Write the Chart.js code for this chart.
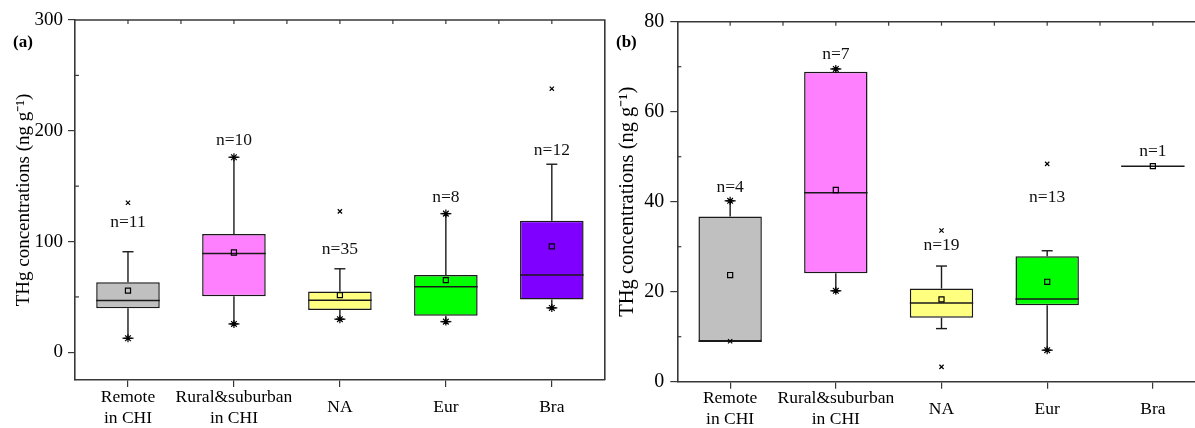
<!DOCTYPE html>
<html><head><meta charset="utf-8">
<script src="https://cdn.jsdelivr.net/npm/chart.js@4/dist/chart.umd.min.js"></script>
<style>
html,body{margin:0;padding:0;background:#fff;overflow:hidden;width:1195px;height:428px;position:relative}
#ca{position:absolute;left:0;top:0}
#cb{position:absolute;left:610px;top:0}
</style></head><body>
<canvas id="ca" width="610" height="428"></canvas>
<canvas id="cb" width="620" height="428"></canvas>
<script>
const categories = [["Remote","in CHI"],["Rural&suburban","in CHI"],"NA","Eur","Bra"];
const boxColors = ["#C0C0C0","#FF80FF","#FFFF80","#00FF00","#8000FF"];

// Panel (a)
const aQ1 = [39.8, 50.7, 38.3, 32.9, 47.6];
const aQ3 = [63.3, 106.8, 54.8, 69.7, 118.8];
const aMedian = [46.7, 89.2, 47.1, 59.1, 69.7];
const aMean = [55.7, 90.1, 51.6, 65.2, 95.6];
const aWhiskerLow = [12.7, 25.6, 29.9, 27.7, 40.1];
const aWhiskerHigh = [90.8, 176.1, 75.4, 125.2, 169.8];
const aStarLow = [12.7, 25.6, 29.9, 27.7, 40.1];
const aStarHigh = [null, 176.1, null, 125.2, null];
const aCrossHigh = [135, null, 127.2, null, 238];
const aCrossLow = [null, null, null, null, null];
const aN = ["n=11","n=10","n=35","n=8","n=12"];
const aNLabelAt = [117.3, 191.2, 92.6, 139.6, 182.4];
const aTicks = [0, 100, 200, 300];
const aMinorTicks = [50, 150, 250];

// Panel (b)
const bQ1 = [9.0, 24.1, 14.2, 17.0, 47.9];
const bQ3 = [36.7, 68.9, 20.7, 27.9, 47.9];
const bMedian = [9.0, 42.0, 17.5, 18.4, 47.9];
const bMean = [23.7, 42.6, 18.3, 22.2, 47.9];
const bWhiskerLow = [9.0, 20.2, 11.8, 7.0, 47.9];
const bWhiskerHigh = [40.2, 69.5, 25.7, 29.1, 47.9];
const bStarLow = [null, 20.2, null, 7.0, null];
const bStarHigh = [40.2, 69.5, null, null, null];
const bCrossHigh = [null, null, 33.6, 48.4, null];
const bCrossLow = [9.0, null, 3.3, null, null];
const bN = ["n=4","n=7","n=19","n=13","n=1"];
const bNLabelAt = [43.2, 72.8, 30.2, 40.9, 51.1];
const bTicks = [0, 20, 40, 60, 80];
const bMinorTicks = [10, 30, 50, 70];

const SERIF = "'Liberation Serif', 'Times New Roman', serif";
const AXIS_COLOR = '#383838';

function extrasPlugin(p){
  return {
    id:'boxExtras',
    beforeDatasetsDraw(chart){
      const x=chart.scales.x, y=chart.scales.y, ctx=chart.ctx;
      ctx.save(); ctx.strokeStyle='#1a1a1a'; ctx.lineWidth=1.4;
      p.q1.forEach((q1,i)=>{
        const px=x.getPixelForValue(i);
        const seg=(a,b)=>{ctx.beginPath();ctx.moveTo(px,y.getPixelForValue(a));ctx.lineTo(px,y.getPixelForValue(b));ctx.stroke();};
        const cap=(v)=>{const py=y.getPixelForValue(v);ctx.beginPath();ctx.moveTo(px-5.5,py);ctx.lineTo(px+5.5,py);ctx.stroke();};
        if(p.wLow[i]<q1){seg(p.wLow[i],q1);cap(p.wLow[i]);}
        if(p.wHigh[i]>p.q3[i]){seg(p.q3[i],p.wHigh[i]);cap(p.wHigh[i]);}
      });
      ctx.restore();
    },
    afterDatasetDraw(chart,args){
      if(args.index!==0) return;
      const y=chart.scales.y, ctx=chart.ctx, meta=chart.getDatasetMeta(0);
      ctx.save(); ctx.strokeStyle='#1a1a1a'; ctx.lineWidth=1.5;
      p.median.forEach((m,i)=>{
        const el=meta.data[i]; const py=y.getPixelForValue(m);
        ctx.beginPath();ctx.moveTo(el.x-el.width/2,py);ctx.lineTo(el.x+el.width/2,py);ctx.stroke();
      });
      ctx.restore();
    },
    afterDraw(chart){
      const x=chart.scales.x, y=chart.scales.y, ctx=chart.ctx, a=chart.chartArea;
      ctx.save();
      ctx.strokeStyle=AXIS_COLOR; ctx.lineWidth=1.6;
      ctx.beginPath();ctx.moveTo(a.left,a.top);ctx.lineTo(a.right,a.top);ctx.lineTo(a.right,a.bottom);ctx.stroke();
      ctx.lineWidth=1.2;
      for(let k=0;k<p.q1.length*2-1;k++){
        const px=x.getPixelForValue(k/2);
        ctx.beginPath();ctx.moveTo(px,a.top);ctx.lineTo(px,a.top+4);ctx.stroke();
      }
      p.minor.forEach(v=>{
        const py=y.getPixelForValue(v);
        ctx.beginPath();ctx.moveTo(a.left,py);ctx.lineTo(a.left+4,py);ctx.stroke();
      });
      ctx.fillStyle='#111'; ctx.textAlign='center'; ctx.textBaseline='middle';
      ctx.font='17.5px '+SERIF;
      p.nText.forEach((t,i)=>{ ctx.fillText(t, x.getPixelForValue(i), y.getPixelForValue(p.nAt[i])); });
      ctx.font='bold 17px '+SERIF; ctx.textAlign='left'; ctx.fillStyle='#000';
      ctx.fillText(p.panel, p.panelX, 43);
      ctx.restore();
    }
  };
}

function makeChart(id, d){
  new Chart(document.getElementById(id), {
    type:'bar',
    data:{
      labels: categories,
      datasets:[
        {type:'bar', order:3, data: d.q1.map((v,i)=>[v,d.q3[i]]), backgroundColor: boxColors,
         borderColor:'#1a1a1a', borderWidth:1.5, borderSkipped:false, barPercentage:0.6, categoryPercentage:1.0},
        {type:'line', order:1, data: d.mean, showLine:false, pointStyle:'rect', pointRadius:3.6,
         pointBorderColor:'#000', pointBackgroundColor:'rgba(0,0,0,0)', pointBorderWidth:1.2},
        {type:'line', order:1, data: d.starLow, showLine:false, pointStyle:'star', pointRadius:4,
         pointBorderColor:'#000', pointBorderWidth:1.2},
        {type:'line', order:1, data: d.starHigh, showLine:false, pointStyle:'star', pointRadius:4,
         pointBorderColor:'#000', pointBorderWidth:1.2},
        {type:'line', order:1, data: d.crossHigh, showLine:false, pointStyle:'crossRot', pointRadius:3,
         pointBorderColor:'#000', pointBorderWidth:1.2},
        {type:'line', order:1, data: d.crossLow, showLine:false, pointStyle:'crossRot', pointRadius:3,
         pointBorderColor:'#000', pointBorderWidth:1.2}
      ]
    },
    options:{
      responsive:false, animation:false, devicePixelRatio:1,
      layout:{padding:{left:0,right:d.padRight,top:d.padTop,bottom:0}},
      plugins:{legend:{display:false}, tooltip:{enabled:false}},
      scales:{
        x:{
          offset:true,
          grid:{display:true, drawOnChartArea:false, drawTicks:true, tickLength:7, offset:false, color:AXIS_COLOR, lineWidth:1.2},
          border:{display:true, color:AXIS_COLOR, width:1.6},
          ticks:{color:'#000', font:{family:SERIF, size:17.5, lineHeight:1.2}, padding:10, maxRotation:0, minRotation:0, autoSkip:false, crossAlign:'center'},
          afterFit(s){ s.height = d.xHeight; }
        },
        y:{
          min:d.min, max:d.max,
          afterBuildTicks(s){ s.ticks = d.ticks.map(v=>({value:v})); },
          afterFit(s){ s.width = d.yWidth; },
          grid:{display:true, drawOnChartArea:false, drawTicks:true, tickLength:7, color:AXIS_COLOR, lineWidth:1.2},
          border:{display:true, color:AXIS_COLOR, width:1.6},
          ticks:{color:'#000', font:{family:SERIF, size:d.tickSize}, padding:d.tickPad},
          title:{display:true, text:'THg concentrations (ng g\u207B\u00B9)', color:'#000',
                 font:{family:SERIF, size:d.titleSize, lineHeight:1.2}, padding:{top:d.titlePad, bottom:0}}
        }
      }
    },
    plugins:[extrasPlugin({q1:d.q1,q3:d.q3,median:d.median,wLow:d.wLow,wHigh:d.wHigh,minor:d.minor,nText:d.nText,nAt:d.nAt,panel:d.panel,panelX:d.panelX})]
  });
}

makeChart('ca', {q1:aQ1,q3:aQ3,median:aMedian,mean:aMean,wLow:aWhiskerLow,wHigh:aWhiskerHigh,
  starLow:aStarLow,starHigh:aStarHigh,crossHigh:aCrossHigh,crossLow:aCrossLow,nText:aN,nAt:aNLabelAt,
  ticks:aTicks,minor:aMinorTicks,min:-25,max:300,padRight:5,padTop:20,xHeight:48,yWidth:75,
  tickSize:19,tickPad:5,titleSize:19,titlePad:12.3,panel:'(a)',panelX:13});

makeChart('cb', {q1:bQ1,q3:bQ3,median:bMedian,mean:bMean,wLow:bWhiskerLow,wHigh:bWhiskerHigh,
  starLow:bStarLow,starHigh:bStarHigh,crossHigh:bCrossHigh,crossLow:bCrossLow,nText:bN,nAt:bNLabelAt,
  ticks:bTicks,minor:bMinorTicks,min:0,max:80,padRight:24.3,padTop:21.7,xHeight:46.3,yWidth:67.3,
  tickSize:20,tickPad:6,titleSize:20.5,titlePad:5.4,panel:'(b)',panelX:6});
</script>
</body></html>
